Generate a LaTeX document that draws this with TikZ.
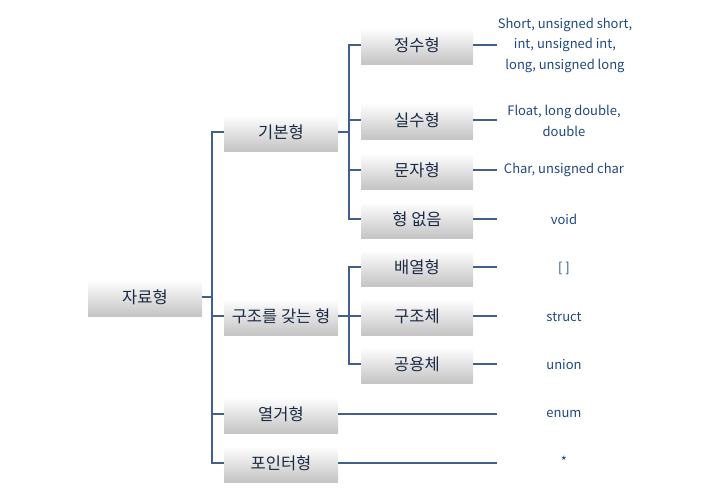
\documentclass[tikz,border=0pt]{standalone}
\usepackage{fontspec}
\setmainfont{Noto Sans CJK KR}
\usepackage{tikz}
\usetikzlibrary{positioning, shadows}
\definecolor{linecol}{HTML}{41608C}
\definecolor{leafcol}{HTML}{1F497D}
\definecolor{boxtext}{HTML}{1C2A44}

\begin{document}
\begin{tikzpicture}[x=1pt, y=-1pt,
    typebox/.style={rectangle, minimum width=114pt, minimum height=34pt, inner sep=0pt,
        top color=white, bottom color=black!22, text=boxtext, font=\fontsize{16.5}{18}\selectfont,
        drop shadow={shadow xshift=0pt, shadow yshift=-2.5pt, opacity=0.45}},
    subbox/.style={typebox, minimum width=112pt},
    leaf/.style={minimum width=134pt, inner sep=0pt, align=center, text=leafcol,
        font=\fontsize{13}{20.5}\selectfont},
    link/.style={draw=linecol, line width=2pt},
]
\useasboundingbox (0,0) rectangle (720,499);
% boxes
\node[typebox](jaryo) at (145,297){자료형};
\node[typebox](gibon) at (281,132){기본형};
\node[typebox](gujo) at (281,316){구조를 갖는 형};
\node[typebox](yeolgeo) at (281,414){열거형};
\node[typebox](pointer) at (281,463){포인터형};
\node[subbox](jeongsu) at (417,45){정수형};
\node[subbox](silsu) at (417,120){실수형};
\node[subbox](munja) at (417,170){문자형};
\node[subbox](eopseum) at (417,219){형 없음};
\node[subbox](baeyeol) at (417,267){배열형};
\node[subbox](gujoche) at (417,316){구조체};
\node[subbox](gongyong) at (417,364){공용체};
% leaf texts
\node[leaf](l1) at (565,45){Short, unsigned short,\\int, unsigned int,\\long, unsigned long};
\node[leaf](l2) at (564,121){Float, long double,\\double};
\node[leaf](l3) at (564,170){Char, unsigned char};
\node[leaf](l4) at (564,219){void};
\node[leaf](l5) at (564,268){[ ]};
\node[leaf](l6) at (564,317){struct};
\node[leaf](l7) at (564,365){union};
\node[leaf](l8) at (564,414){enum};
\node[leaf](l9) at (564,461){*};
% tree lines
\draw[link] (jaryo.east) -- ++(10,0) coordinate(t0);
\draw[link] (gibon.west) -| (t0) |- (pointer.west);
\draw[link] (gujo.west) -- (gujo.west -| t0);
\draw[link] (yeolgeo.west) -- (yeolgeo.west -| t0);
\draw[link] (gibon.east) -- ++(11,0) coordinate(t1);
\draw[link] (jeongsu.west) -| (t1) |- (eopseum.west);
\draw[link] (silsu.west) -- (silsu.west -| t1);
\draw[link] (munja.west) -- (munja.west -| t1);
\draw[link] (gujo.east) -- ++(11,0) coordinate(t2);
\draw[link] (baeyeol.west) -| (t2) |- (gongyong.west);
\draw[link] (gujoche.west) -- (gujoche.west -| t2);
% leaf lines
\draw[link] (jeongsu.east) -- (jeongsu.east -| l3.west);
\draw[link] (silsu.east) -- (silsu.east -| l3.west);
\draw[link] (munja.east) -- (l3.west);
\draw[link] (eopseum.east) -- (eopseum.east -| l3.west);
\draw[link] (baeyeol.east) -- (baeyeol.east -| l3.west);
\draw[link] (gujoche.east) -- (gujoche.east -| l3.west);
\draw[link] (gongyong.east) -- (gongyong.east -| l3.west);
\draw[link] (yeolgeo.east) -- (yeolgeo.east -| l3.west);
\draw[link] (pointer.east) -- (pointer.east -| l3.west);
\end{tikzpicture}
\end{document}
